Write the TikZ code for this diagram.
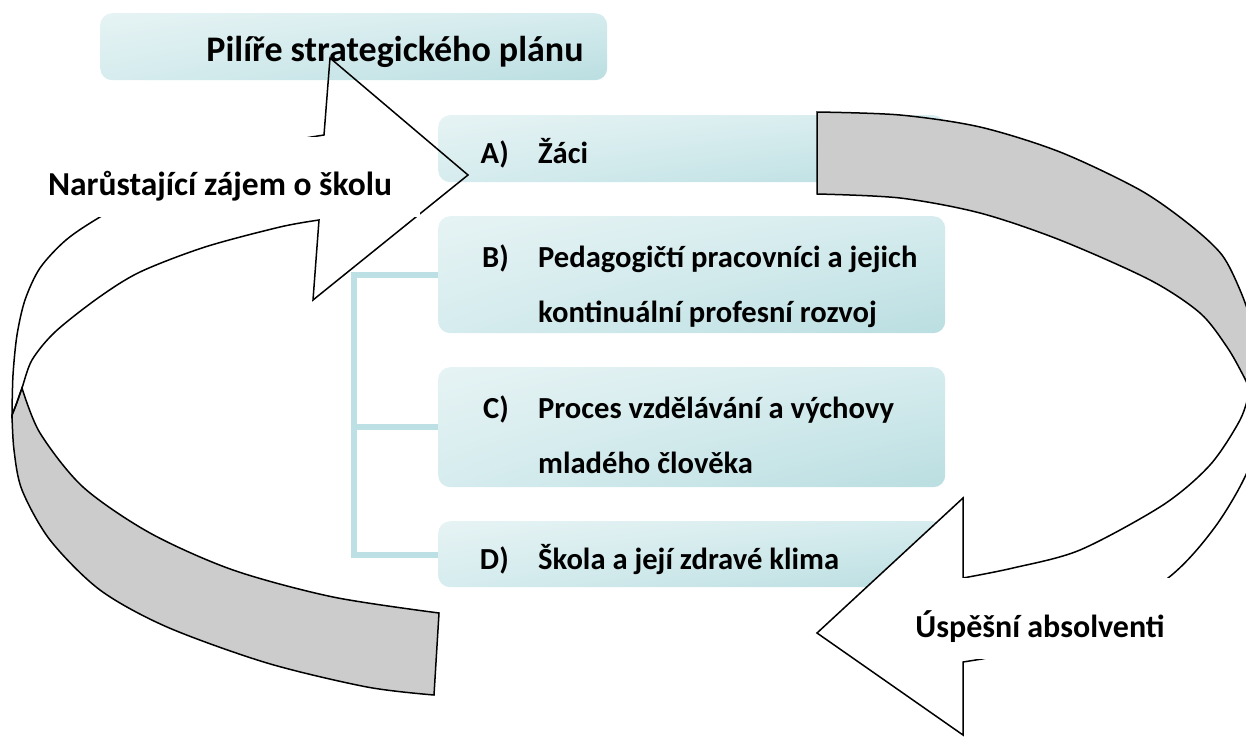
\documentclass[tikz,border=0pt]{standalone}
\usepackage{fontspec}
\setmainfont{Carlito}
\usetikzlibrary{shadings}
\definecolor{boxl}{HTML}{E6F3F4}
\definecolor{boxm}{HTML}{D6ECEE}
\definecolor{boxd}{HTML}{BADEE1}
\definecolor{brk}{HTML}{BCE0E3}
\definecolor{band}{HTML}{CCCCCC}
\begin{document}
\begin{tikzpicture}[x=1pt,y=-1pt,
  pillar/.style={shade, rounded corners=12pt, inner sep=0pt, anchor=north west,
     minimum width=507pt, upper left=boxl, upper right=boxm, lower left=boxm, lower right=boxd},
  brline/.style={draw=brk, line width=6pt},
  outl/.style={draw=black, line width=1.5pt, line join=miter},
  bodyfont/.style={font=\fontsize{30.6}{36}\selectfont\bfseries, inner sep=0pt},
  arrfont/.style={inner sep=0pt, fill=white}]
\useasboundingbox (0,0) rectangle (1246,736);
\clip (0,0) rectangle (1246,736);

% boxes
\draw[brline] (438,274.5) coordinate (bB) -- (354,274.5) |- (438,554.5) coordinate (bD);
\draw[brline] (438,427) coordinate (bC) -- (354,427);
\node[pillar, minimum height=67pt] (T) at (100,13) {};
\node[pillar, minimum height=67pt] (A) at (438,115) {};
\node[pillar, minimum height=117pt] (B) at (438,216) {};
\node[pillar, minimum height=120pt] (C) at (438,367) {};
\node[pillar, minimum height=66pt] (D) at (438,521) {};

% left arrow: grey back band
\path[outl, fill=band] (22,388) -- (16,405) -- (12,415)
  -- plot[smooth] coordinates {(12,415) (14,450) (22,490) (50,540) (100,590) (167,627) (267,663) (367,687) (434,695)}
  -- (439,613)
  -- plot[smooth] coordinates {(439,613) (333,597) (233,570) (150,533) (83,487) (40,433) (22,388)} -- cycle;
% left arrow: front face (outline)
\path[outl] (468,175) -- (330,58) -- (324,135)
  -- plot[smooth] coordinates {(324,135) (245,150) (165,180) (100,217) (66,240) (40,268) (25,300) (17,335) (13,375) (12,415)}
  -- plot[smooth] coordinates {(12,415) (16,405) (22,388) (32,360) (55,332) (98,298) (140,272) (205,247) (280,227) (319,220)}
  -- (313,300) -- cycle;

% right arrow: grey back band
\path[outl, fill=band] (817,194) -- (817,112)
  -- plot[smooth] coordinates {(817,112) (900,115) (980,127) (1060,152) (1140,190) (1190,225) (1222,255) (1240,290) (1252,325) (1259,370) (1260,390)}
  -- (1250,390)
  -- plot[smooth] coordinates {(1250,390) (1243,375) (1227,347) (1200,313) (1150,280) (1060,240) (980,213) (900,198) (817,194)} -- cycle;
% right arrow: front face
\path[outl, fill=white] (817,633) -- (963,498) -- (963,578)
  -- plot[smooth] coordinates {(963,578) (1013,568) (1080,550) (1163,505) (1210,465) (1240,420) (1250,390)}
  -- (1260,390)
  -- plot[smooth] coordinates {(1260,390) (1258,420) (1248,470) (1215,527) (1168,578) (1080,632) (982,659)}
  -- (963,662) -- (963,735) -- cycle;

% texts
\node[font=\fontsize{36}{42}\selectfont\bfseries, inner sep=0pt, anchor=base] (Tt) at (395,61) {Pilíře strategického plánu};
\node[bodyfont, anchor=base east] (Al) at (509,163) {A)};
\node[bodyfont, anchor=base west] (At) at (538,163) {Žáci};
\node[bodyfont, anchor=base east] (Bl) at (509,267) {B)};
\node[bodyfont, anchor=base west] (Bt1) at (538,267) {Pedagogičtí pracovníci a jejich};
\node[bodyfont, anchor=base west] (Bt2) at (538,322) {kontinuální profesní rozvoj};
\node[bodyfont, anchor=base east] (Cl) at (509,418) {C)};
\node[bodyfont, anchor=base west] (Ct1) at (538,418) {Proces vzdělávání a výchovy};
\node[bodyfont, anchor=base west] (Ct2) at (538,473) {mladého člověka};
\node[bodyfont, anchor=base east] (Dl) at (509,569) {D)};
\node[bodyfont, anchor=base west] (Dt) at (538,569) {Škola a její zdravé klima};

\node[arrfont, font=\fontsize{33.5}{40}\selectfont\bfseries, anchor=base, text height=58pt, text depth=22pt, minimum width=400pt] (Lt) at (220,195) {Narůstající zájem o školu};
\node[arrfont, font=\fontsize{32}{38}\selectfont\bfseries, anchor=base, text height=59pt, text depth=22pt, minimum width=320pt] (Rt) at (1040,637) {Úspěšní absolventi};
\end{tikzpicture}
\end{document}
